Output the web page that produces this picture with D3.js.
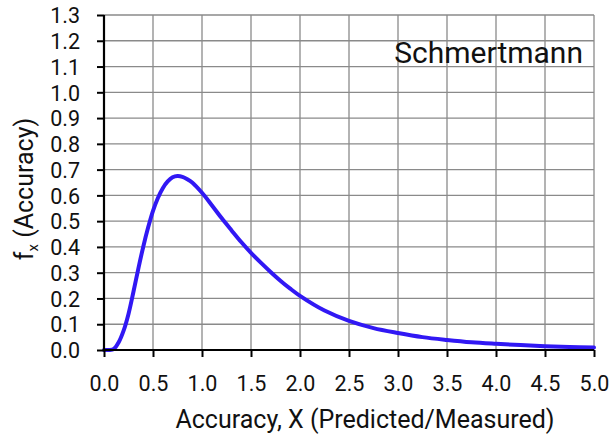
<!DOCTYPE html>
<html>
<head>
<meta charset="utf-8">
<script src="https://cdn.jsdelivr.net/npm/d3@7"></script>
<style>
  html, body { margin: 0; padding: 0; background: #fff; }
  svg { display: block; }
  text { font-family: Roboto, "Open Sans", sans-serif; fill: #111; }
</style>
</head>
<body>
<svg id="chart" width="613" height="438"></svg>
<script>
// Probability density of the accuracy ratio X (predicted / measured)
const accuracyX = [0.00, 0.05, 0.10, 0.15, 0.20, 0.25, 0.30, 0.35, 0.40, 0.45,
                   0.50, 0.55, 0.60, 0.65, 0.70, 0.75, 0.80, 0.85, 0.90, 1.00,
                   1.10, 1.20, 1.30, 1.40, 1.50, 1.60, 1.70, 1.80, 1.90, 2.00,
                   2.25, 2.50, 2.75, 3.00, 3.25, 3.50, 3.75, 4.00, 4.25, 4.50,
                   4.75, 5.00];
const density   = [0.000, 0.000, 0.004, 0.030, 0.075, 0.140, 0.225, 0.315, 0.400, 0.475,
                   0.540, 0.590, 0.628, 0.654, 0.670, 0.675, 0.672, 0.663, 0.650, 0.610,
                   0.562, 0.512, 0.465, 0.419, 0.377, 0.339, 0.303, 0.269, 0.238, 0.210,
                   0.153, 0.113, 0.085, 0.066, 0.050, 0.039, 0.030, 0.024, 0.019, 0.015,
                   0.012, 0.010];

const xTicks = [0, 0.5, 1, 1.5, 2, 2.5, 3, 3.5, 4, 4.5, 5];
const yTicks = [0, 0.1, 0.2, 0.3, 0.4, 0.5, 0.6, 0.7, 0.8, 0.9, 1.0, 1.1, 1.2, 1.3];

const seriesLabel = "Schmertmann";
const xTitle = "Accuracy, X (Predicted/Measured)";

const svg = d3.select("#chart");
const plotL = 104, plotR = 594, plotT = 15, plotB = 350;
const tickFont = 21.5, titleFont = 25;

const x = d3.scaleLinear().domain([0, 5]).range([plotL, plotR]);
const y = d3.scaleLinear().domain([0, 1.3]).range([plotB, plotT]);
const fmt = d3.format(".1f");

// grid
const grid = svg.append("g").attr("stroke", "#8a8a8a").attr("stroke-width", 1.3);
grid.selectAll("line.h").data(yTicks.slice(1)).join("line")
  .attr("x1", plotL).attr("x2", plotR)
  .attr("y1", d => y(d)).attr("y2", d => y(d));
grid.selectAll("line.v").data(xTicks.slice(1)).join("line")
  .attr("y1", plotT).attr("y2", plotB)
  .attr("x1", d => x(d)).attr("x2", d => x(d));

// density curve
const line = d3.line()
  .x((d, i) => x(accuracyX[i]))
  .y(d => y(d))
  .curve(d3.curveCatmullRom.alpha(0.5));
svg.append("path")
  .datum(density)
  .attr("d", line)
  .attr("fill", "none")
  .attr("stroke", "#3118f4")
  .attr("stroke-width", 4)
  .attr("stroke-linejoin", "round")
  .attr("stroke-linecap", "round");

// axes
const yAxis = d3.axisLeft(y).tickValues(yTicks).tickFormat(fmt).tickSize(7).tickPadding(17);
const xAxis = d3.axisBottom(x).tickValues(xTicks).tickFormat(fmt).tickSize(7).tickPadding(19);

const gy = svg.append("g").attr("transform", `translate(${plotL},0)`).call(yAxis);
const gx = svg.append("g").attr("transform", `translate(0,${plotB})`).call(xAxis);

[gx, gy].forEach(g => {
  g.select(".domain").attr("stroke", "#000").attr("stroke-width", 2.2);
  g.selectAll(".tick line").attr("stroke", "#000").attr("stroke-width", 2);
  g.selectAll(".tick text")
    .attr("font-family", "Roboto, 'Open Sans', sans-serif")
    .attr("font-size", tickFont)
    .attr("fill", "#111");
});
gy.select(".domain").attr("d", `M0,${plotT}V${plotB + 1}`);
gx.select(".domain").attr("d", `M${plotL - 1},0H${plotR}`);
gy.selectAll(".tick text").attr("dy", "0.36em");

// axis titles
svg.append("text")
  .attr("x", 365).attr("y", 428)
  .attr("text-anchor", "middle")
  .attr("font-size", titleFont)
  .text(xTitle);

const yTitle = svg.append("text")
  .attr("transform", "translate(33,189) rotate(-90)")
  .attr("text-anchor", "middle")
  .attr("font-size", titleFont);
yTitle.append("tspan").text("f");
yTitle.append("tspan").attr("font-size", 15).attr("dy", 5).text("x");
yTitle.append("tspan").attr("dy", -5).text(" (Accuracy)");

// series label
svg.append("text")
  .attr("x", 583).attr("y", 63)
  .attr("text-anchor", "end")
  .attr("font-size", 30)
  .text(seriesLabel);
</script>
</body>
</html>
